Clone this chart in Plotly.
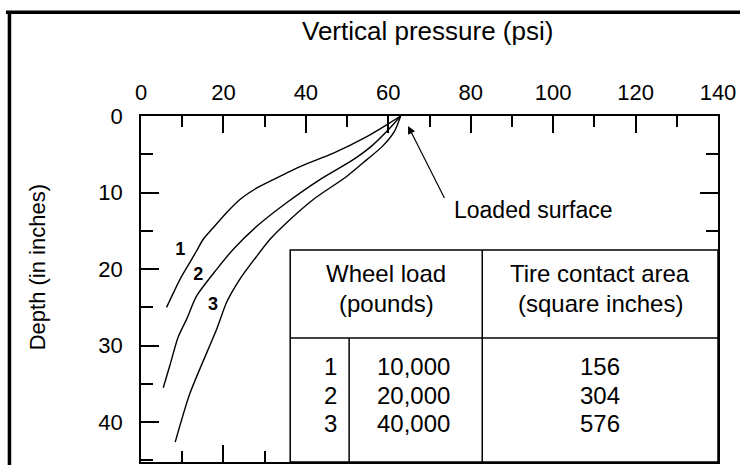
import plotly.graph_objects as go

# Vertical pressure (psi) vs depth (inches) under three wheel loads
curve_ids = ["1", "2", "3"]
pressure_1 = [63.0, 59.5, 54.8, 46.7, 38.6, 32.1, 28.1, 24.0, 20.8, 17.5, 15.1, 13.5, 11.9, 9.5, 6.2]
depth_1 = [0.0, 1.2, 2.7, 4.85, 6.6, 8.3, 9.4, 10.9, 12.6, 14.6, 16.1, 17.6, 19.1, 21.3, 25.0]
pressure_2 = [63.0, 60.0, 56.0, 51.5, 43.4, 35.4, 28.1, 22.4, 18.4, 13.5, 11.1, 9.0, 7.0, 5.4]
depth_2 = [0.0, 1.8, 3.9, 5.7, 8.3, 11.3, 14.4, 17.4, 20.0, 23.5, 26.5, 28.9, 32.6, 35.5]
pressure_3 = [63.0, 61.5, 58.5, 54.8, 49.9, 41.8, 35.4, 31.3, 28.1, 24.0, 20.8, 18.4, 11.9, 8.3]
depth_3 = [0.0, 2.0, 4.0, 5.7, 7.9, 10.9, 13.9, 16.1, 18.3, 21.3, 24.3, 27.8, 36.2, 42.6]

# Curve label anchor points (pressure, depth)
label_pressure = [9.5, 13.9, 17.5]
label_depth = [17.6, 20.9, 24.8]

# Table contents
wheel_loads = ["10,000", "20,000", "40,000"]
contact_areas = ["156", "304", "576"]

# Axis ticks
x_ticks = [0, 20, 40, 60, 80, 100, 120, 140]
y_ticks = [0, 10, 20, 30, 40]

FONT = "Liberation Sans, Arial, Helvetica, sans-serif"
INK = "black"

fig = go.Figure()
for px, dy in [(pressure_1, depth_1), (pressure_2, depth_2), (pressure_3, depth_3)]:
    fig.add_trace(go.Scatter(
        x=px, y=dy, mode="lines",
        line=dict(color=INK, width=1.4, shape="spline", smoothing=0.7),
        hoverinfo="skip", showlegend=False,
    ))

fig.add_trace(go.Scatter(
    x=label_pressure, y=label_depth, mode="text", text=curve_ids,
    textfont=dict(family=FONT, size=18, color=INK, weight="bold"),
    hoverinfo="skip", showlegend=False,
))

# Table box (data coordinates)
t_left, t_right, t_top, t_bottom = 36.2, 140.0, 17.5, 45.2
t_head, t_col, t_idx = 29.0, 82.8, 50.5
line = dict(color=INK, width=1.5)
fig.add_shape(type="rect", x0=t_left, x1=t_right, y0=t_top, y1=t_bottom,
              xref="x", yref="y", fillcolor="white", line=line, layer="above")
fig.add_shape(type="line", x0=t_left, x1=t_right, y0=t_head, y1=t_head,
              xref="x", yref="y", line=line, layer="above")
fig.add_shape(type="line", x0=t_col, x1=t_col, y0=t_top, y1=t_bottom,
              xref="x", yref="y", line=line, layer="above")
fig.add_shape(type="line", x0=t_idx, x1=t_idx, y0=t_head, y1=t_bottom,
              xref="x", yref="y", line=line, layer="above")

tfont = dict(family=FONT, size=24, color=INK)
for txt, x, y in [("Wheel load", 59.5, 20.6), ("(pounds)", 59.5, 24.5),
                  ("Tire contact area", 111.4, 20.6), ("(square inches)", 111.4, 24.5)]:
    fig.add_annotation(x=x, y=y, xref="x", yref="y", text=txt, showarrow=False, font=tfont)

for i, (cid, load, area) in enumerate(zip(curve_ids, wheel_loads, contact_areas)):
    ry = 32.7 + 3.75 * i
    fig.add_annotation(x=45.9, y=ry, xref="x", yref="y", text=cid, showarrow=False, font=tfont)
    fig.add_annotation(x=66.0, y=ry, xref="x", yref="y", text=load, showarrow=False, font=tfont)
    fig.add_annotation(x=111.4, y=ry, xref="x", yref="y", text=area, showarrow=False, font=tfont)

# Loaded surface callout
fig.add_annotation(x=64.8, y=1.3, ax=73.8, ay=10.9, xref="x", yref="y", axref="x", ayref="y",
                   text="", showarrow=True, arrowhead=2, arrowsize=1.3, arrowwidth=1.2,
                   arrowcolor=INK, standoff=0)
fig.add_annotation(x=75.5, y=12.3, xref="x", yref="y", text="Loaded surface",
                   showarrow=False, xanchor="left", font=dict(family=FONT, size=23, color=INK))

# Titles
fig.add_annotation(x=0.497, y=1.247, xref="paper", yref="paper", text="Vertical pressure (psi)",
                   xanchor="center", yanchor="middle",
                   showarrow=False, font=dict(family=FONT, size=26, color=INK))
fig.add_annotation(x=-0.180, y=0.563, xref="paper", yref="paper", text="Depth (in inches)",
                   xanchor="center", yanchor="middle",
                   textangle=-90, showarrow=False, font=dict(family=FONT, size=22, color=INK))

# Outer frame (left and top edges)
frame = dict(color=INK, width=3.5)
fig.add_shape(type="line", xref="paper", yref="paper", x0=-0.228, x1=-0.228, y0=-0.2, y1=1.300, line=frame)
fig.add_shape(type="line", xref="paper", yref="paper", x0=-0.234, x1=1.2, y0=1.300, y1=1.300, line=frame)

fig.update_layout(
    width=740, height=465,
    margin=dict(l=141, r=22, t=116, b=1),
    paper_bgcolor="white", plot_bgcolor="white",
    font=dict(family=FONT, color=INK),
    showlegend=False,
)
fig.update_xaxes(
    range=[0, 140], side="top", showgrid=False, zeroline=False,
    showline=True, linecolor=INK, linewidth=1.5, mirror="allticks",
    ticks="inside", ticklen=17, tickwidth=1.5, tickcolor=INK,
    tickvals=x_ticks, tickfont=dict(family=FONT, size=22, color=INK),
    ticklabelstandoff=5,
    minor=dict(dtick=10, tick0=0, ticks="inside", ticklen=11, tickwidth=1.5, tickcolor=INK),
)
fig.update_yaxes(
    range=[45.2, 0], showgrid=False, zeroline=False,
    showline=True, linecolor=INK, linewidth=1.5, mirror="allticks",
    ticks="inside", ticklen=18, tickwidth=1.5, tickcolor=INK,
    tickvals=y_ticks, tickfont=dict(family=FONT, size=22, color=INK),
    ticklabelstandoff=12,
    minor=dict(dtick=5, tick0=0, ticks="inside", ticklen=12, tickwidth=1.5, tickcolor=INK),
)

fig.write_html("out.html")
